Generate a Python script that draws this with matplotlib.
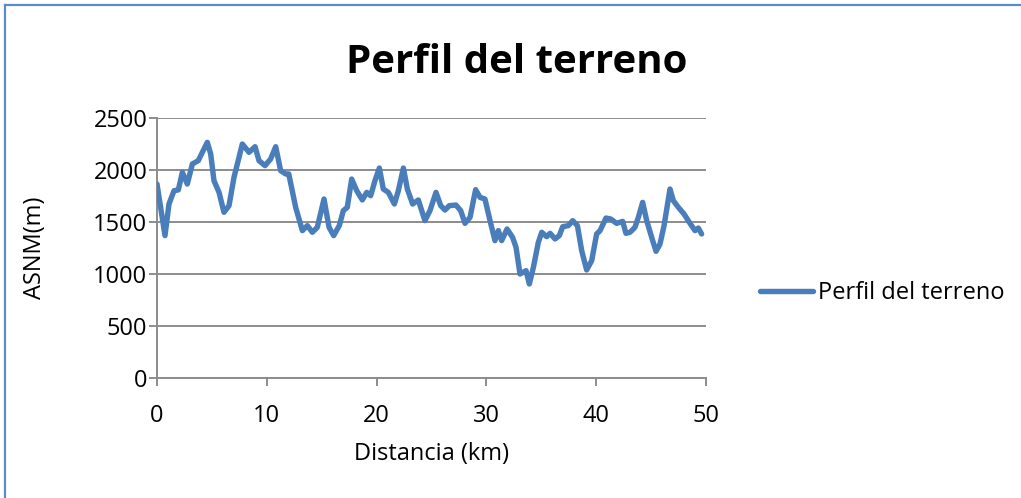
import numpy as np
import matplotlib.pyplot as plt
from matplotlib.lines import Line2D

# perfil: distancia (km) y altura sobre el nivel del mar (m)
distancia = [0.0, 0.73, 1.09, 1.55, 1.94, 2.31, 2.76, 3.22, 3.76, 4.13, 4.58, 4.89,
             5.19, 5.65, 6.10, 6.56, 7.01, 7.47, 7.77, 8.38, 8.93, 9.29, 9.84, 10.35,
             10.81, 11.26, 11.72, 12.0, 12.63, 13.24, 13.69, 14.15, 14.60, 15.21, 15.67,
             16.09, 16.60, 16.97, 17.33, 17.73, 18.19, 18.70, 19.10, 19.46, 19.85, 20.25,
             20.61, 21.07, 21.62, 21.98, 22.44, 22.80, 23.28, 23.80, 24.40, 24.86, 25.41,
             25.84, 26.23, 26.62, 27.23, 27.66, 28.05, 28.51, 29.02, 29.42, 29.87, 30.33,
             30.78, 31.09, 31.39, 31.88, 32.38, 32.70, 33.06, 33.61, 33.91, 34.28, 34.73,
             35.04, 35.49, 35.80, 36.25, 36.64, 36.95, 37.46, 37.86, 38.29, 38.68, 39.13,
             39.59, 40.04, 40.35, 40.89, 41.32, 41.86, 42.41, 42.71, 43.08, 43.53, 43.84,
             44.23, 44.60, 45.05, 45.45, 45.81, 46.18, 46.72, 47.03, 47.48, 48.00, 48.48,
             49.00, 49.30, 49.60]
altura = [1865, 1369, 1673, 1801, 1808, 1978, 1865, 2058, 2090, 2170, 2266, 2154,
          1897, 1785, 1593, 1657, 1929, 2122, 2250, 2170, 2224, 2090, 2042, 2106,
          2224, 1994, 1962, 1962, 1641, 1417, 1465, 1401, 1449, 1721, 1449,
          1369, 1465, 1609, 1641, 1913, 1801, 1712, 1785, 1753, 1897, 2019,
          1817, 1785, 1673, 1801, 2019, 1817, 1673, 1712, 1513, 1609, 1785,
          1657, 1615, 1657, 1663, 1609, 1487, 1545, 1811, 1737, 1721, 1513,
          1321, 1417, 1321, 1433, 1353, 1256, 1000, 1032, 904, 1064, 1305,
          1401, 1359, 1391, 1337, 1369, 1455, 1465, 1513, 1465, 1224, 1039,
          1128, 1385, 1417, 1538, 1529, 1487, 1506, 1391, 1401, 1449, 1545,
          1689, 1513, 1353, 1218, 1288, 1465, 1817, 1705, 1641, 1577, 1497,
          1417, 1442, 1385]

x_ticks = [0, 10, 20, 30, 40, 50]
y_ticks = [0, 500, 1000, 1500, 2000, 2500]

azul = '#4a7ebb'
gris = '#8c8c8c'

plt.rcParams['font.family'] = ['Open Sans', 'DejaVu Sans']

fig = plt.figure(figsize=(10.21, 4.98), dpi=100)
ax = fig.add_axes([157 / 1021, 1 - 378 / 498, (706 - 157) / 1021, (378 - 118) / 498])

ax.plot(distancia, altura, color=azul, lw=3.9, solid_joinstyle='round',
        solid_capstyle='round', zorder=3)

ax.set_xlim(0, 50)
ax.set_ylim(0, 2500)
ax.set_xticks(x_ticks)
ax.set_yticks(y_ticks)
ax.grid(axis='y', color=gris, lw=1.4)
for s in ['top', 'right']:
    ax.spines[s].set_visible(False)
for s in ['left', 'bottom']:
    ax.spines[s].set_color(gris)
    ax.spines[s].set_linewidth(1.4)
ax.tick_params(axis='both', direction='out', length=5.5, width=1.4, color=gris,
               labelsize=17)
ax.tick_params(axis='y', pad=1.5)
ax.tick_params(axis='x', pad=13.5)
ax.set_xlabel('Distancia (km)', fontsize=17, labelpad=10)
ax.set_ylabel('ASNM(m)', fontsize=17, labelpad=33)

fig.text(517 / 1021, 1 - 73 / 498, 'Perfil del terreno', fontsize=29,
         fontweight='bold', ha='center', va='baseline')

# leyenda a la derecha del area de trazado
handle = Line2D([], [], color=azul, lw=3.9, solid_capstyle='round')
fig.legend([handle], ['Perfil del terreno'], loc='center left',
           bbox_to_anchor=(760 / 1021, 1 - 293 / 498), frameon=False, fontsize=17,
           handlelength=2.25, handletextpad=0.2, borderpad=0, borderaxespad=0)

# marco del grafico
fig.add_artist(Line2D([4.5 / 1021, 4.5 / 1021], [0, 1 - 5.5 / 498],
                      color='#5b8bcf', lw=1.6, transform=fig.transFigure))
fig.add_artist(Line2D([4.5 / 1021, 1], [1 - 5.5 / 498, 1 - 5.5 / 498],
                      color='#5b8bcf', lw=1.6, transform=fig.transFigure))

fig.savefig('out.png', dpi=100)
